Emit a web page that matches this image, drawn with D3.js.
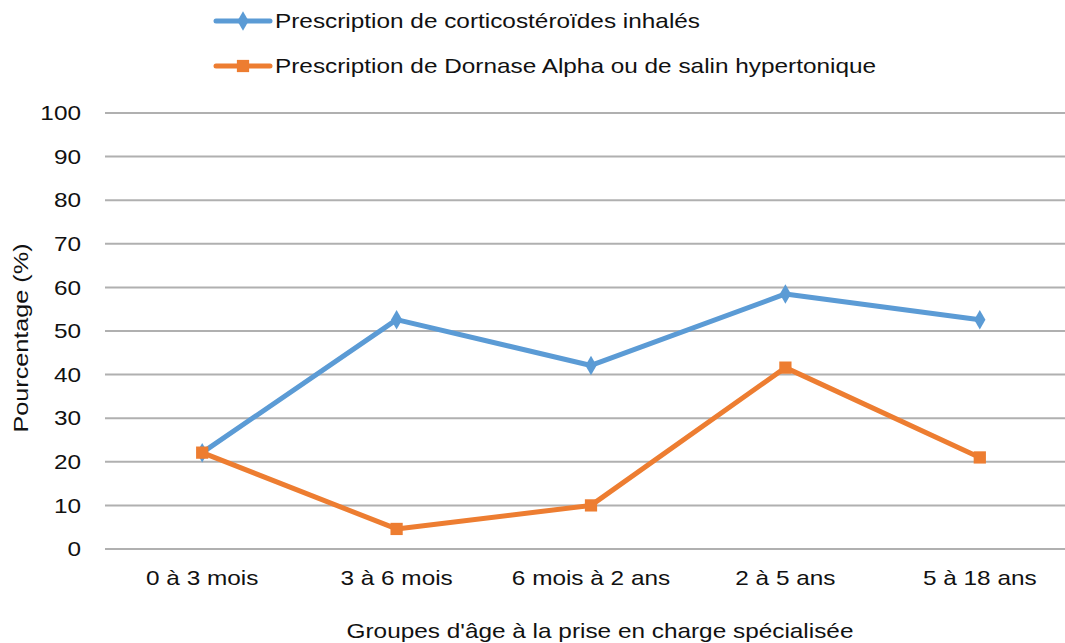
<!DOCTYPE html>
<html lang="fr">
<head>
  <meta charset="UTF-8">
  <title>Prescriptions par groupe d'âge</title>
  <script src="https://d3js.org/d3.v7.min.js"></script>
  <style>
    body { margin: 0; background: #fff; }
    svg { display: block; font-family: "Liberation Sans", Arial, Helvetica, sans-serif; }
  </style>
</head>
<body>
<div id="chart"></div>
<script>
  // data
  const categories = ["0 à 3 mois", "3 à 6 mois", "6 mois à 2 ans", "2 à 5 ans", "5 à 18 ans"];
  const corticoValues = [22.1, 52.6, 42.1, 58.5, 52.6];
  const dornaseValues = [22.1, 4.6, 10.0, 41.6, 21.0];
  const yTicks = [0, 10, 20, 30, 40, 50, 60, 70, 80, 90, 100];
  const seriesNames = [
    "Prescription de corticostéroïdes inhalés",
    "Prescription de Dornase Alpha ou de salin hypertonique"
  ];

  const width = 1065;
  const height = 643;
  const margin = { top: 113, right: -12, bottom: 94, left: 105 };
  const fontSize = 21;
  const stretch = 1.16; // the reference text looks wider than Arial

  const svg = d3.select("#chart")
    .append("svg")
    .attr("width", width)
    .attr("height", height);

  const x = d3.scaleBand()
    .domain(categories)
    .range([margin.left, width - margin.right]);

  const y = d3.scaleLinear()
    .domain([0, 100])
    .range([height - margin.bottom, margin.top]);

  // gridlines
  svg.append("g")
    .selectAll("line")
    .data(yTicks)
    .join("line")
    .attr("x1", margin.left)
    .attr("x2", width)
    .attr("y1", d => y(d))
    .attr("y2", d => y(d))
    .attr("stroke", "#b0b0b0")
    .attr("stroke-width", 2);

  // y axis labels
  const yAxis = d3.axisLeft(y).tickValues(yTicks).tickSize(0);
  svg.append("g")
    .attr("transform", `translate(${margin.left},0)`)
    .call(yAxis)
    .call(g => g.select(".domain").remove())
    .selectAll("text")
    .attr("x", 0)
    .attr("transform", `translate(-24,0) scale(${stretch},1)`)
    .attr("font-size", fontSize)
    .attr("font-family", null)
    .attr("fill", "#111");

  // x axis labels
  const xAxis = d3.axisBottom(x).tickSize(0).tickPadding(21);
  svg.append("g")
    .attr("transform", `translate(0,${height - margin.bottom})`)
    .call(xAxis)
    .call(g => g.select(".domain").remove())
    .selectAll("text")
    .attr("transform", `scale(${stretch},1)`)
    .attr("font-size", fontSize)
    .attr("font-family", null)
    .attr("fill", "#111");

  // axis titles
  svg.append("text")
    .attr("transform", `translate(600,638) scale(${stretch},1)`)
    .attr("text-anchor", "middle")
    .attr("font-size", fontSize)
    .attr("fill", "#111")
    .text("Groupes d'âge à la prise en charge spécialisée");

  svg.append("text")
    .attr("transform", "translate(28,338) rotate(-90) scale(1.2,1)")
    .attr("text-anchor", "middle")
    .attr("font-size", fontSize)
    .attr("fill", "#111")
    .text("Pourcentage (%)");

  const series = [
    { name: seriesNames[0], values: corticoValues, color: "#5b9bd5", marker: d3.symbolDiamond, size: 110 },
    { name: seriesNames[1], values: dornaseValues, color: "#ed7d31", marker: d3.symbolSquare, size: 150 }
  ];

  const line = d3.line()
    .x((d, i) => x(categories[i]) + x.bandwidth() / 2)
    .y(d => y(d));

  series.forEach(s => {
    svg.append("path")
      .datum(s.values)
      .attr("fill", "none")
      .attr("stroke", s.color)
      .attr("stroke-width", 5)
      .attr("stroke-linejoin", "round")
      .attr("d", line);

    svg.append("g")
      .selectAll("path")
      .data(s.values)
      .join("path")
      .attr("transform", (d, i) => `translate(${x(categories[i]) + x.bandwidth() / 2},${y(d)})`)
      .attr("d", d3.symbol().type(s.marker).size(s.size))
      .attr("fill", s.color);
  });

  // legend
  const legend = svg.append("g");
  series.forEach((s, i) => {
    const ly = 21 + i * 45;
    legend.append("line")
      .attr("x1", 216).attr("x2", 270)
      .attr("y1", ly).attr("y2", ly)
      .attr("stroke", s.color)
      .attr("stroke-width", 5)
      .attr("stroke-linecap", "round");
    legend.append("path")
      .attr("transform", `translate(243,${ly})`)
      .attr("d", d3.symbol().type(s.marker).size(s.size))
      .attr("fill", s.color);
    legend.append("text")
      .attr("transform", `translate(275,${ly}) scale(${stretch},1)`)
      .attr("dy", "0.35em")
      .attr("font-size", fontSize)
      .attr("fill", "#111")
      .text(s.name);
  });
</script>
</body>
</html>
